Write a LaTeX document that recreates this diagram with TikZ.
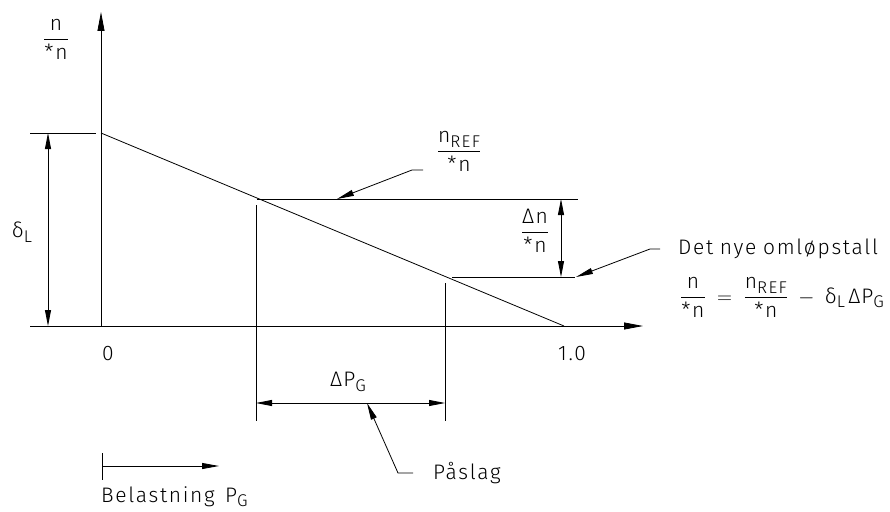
\documentclass[tikz,border=0pt]{standalone}
\usepackage{amsmath}
\usepackage{fontspec}
\setmainfont{Fira Sans Light}[LetterSpace=8]
\usetikzlibrary{arrows.meta}
\newcommand{\frc}[2]{\dfrac{\text{#1}}{\text{#2}}}
\newcommand{\lowr}[1]{\raisebox{-0.4ex}{\fontsize{17}{19}\selectfont #1}}
\tikzset{
  ln/.style={line width=0.8pt},
  axarrow/.style={ln,-{Triangle[length=19pt,width=7pt]}},
  dimarrow/.style={ln,{Triangle[length=16pt,width=6pt]}-{Triangle[length=16pt,width=6pt]}},
  leader/.style={ln,-{Triangle[length=17pt,width=6pt]}},
  lbl/.style={inner sep=0pt,font=\fontsize{21}{24}\selectfont},
}
\begin{document}
\begin{tikzpicture}[x=1pt,y=-1pt]
\useasboundingbox (0,0) rectangle (890,511);
% coordinates
\coordinate (O) at (101,326);
\coordinate (Ytop) at (101,12);
\coordinate (Xs) at (30,326);
\coordinate (Xe) at (643,326);
\coordinate (T1) at (30,133);
\coordinate (T2) at (96,133);
\coordinate (A) at (101,133);
\coordinate (B) at (564,326);
\coordinate (D1) at (48,133);
\coordinate (D2) at (48,326);
\coordinate (V1t) at (256,205);
\coordinate (V1b) at (256,421);
\coordinate (V2t) at (445,283);
\coordinate (V2b) at (445,421);
\coordinate (P1) at (256,403);
\coordinate (P2) at (445,403);
\coordinate (R1) at (257,199);
\coordinate (R2) at (578,199);
\coordinate (N1) at (452,277);
\coordinate (N2) at (575,277);
\coordinate (DN1) at (561,199);
\coordinate (DN2) at (561,277);
\coordinate (RL0) at (423,170);
\coordinate (RL1) at (412,170);
\coordinate (RLt) at (337,199);
\coordinate (NL0) at (660,249);
\coordinate (NL1) at (650,249);
\coordinate (NLt) at (576,277);
\coordinate (PL0) at (413,473);
\coordinate (PL1) at (398,473);
\coordinate (PLt) at (367,403);
\coordinate (BT1) at (102,453);
\coordinate (BT2) at (102,480);
\coordinate (BA1) at (102,466);
\coordinate (BA2) at (219,466);
% axes
\draw[axarrow] (O) -- (Ytop);
\draw[axarrow] (Xs) -- (Xe);
% characteristic
\draw[ln] (T1) -- (T2);
\draw[ln] (A) -- (B);
\draw[dimarrow] (D1) -- (D2);
% extension lines
\draw[ln] (V1t) -- (V1b);
\draw[ln] (V2t) -- (V2b);
\draw[dimarrow] (P1) -- (P2);
\draw[ln] (R1) -- (R2);
\draw[ln] (N1) -- (N2);
\draw[dimarrow] (DN1) -- (DN2);
% leaders
\draw[leader] (RL0) -- (RL1) -- (RLt);
\draw[leader] (NL0) -- (NL1) -- (NLt);
\draw[leader] (PL0) -- (PL1) -- (PLt);
% load arrow
\draw[ln] (BT1) -- (BT2);
\draw[ln,-{Triangle[length=17pt,width=6pt]}] (BA1) -- (BA2);
% labels
\node[lbl,anchor=base] (ny) at (56,45) {$\frc{n}{*n}$};
\node[lbl] (dl) at (22,232) {δ\lowr{L}};
\node[lbl] (zero) at (108,354) {0};
\node[lbl] (one) at (572,354) {1.0};
\node[lbl] (dpg) at (348,382) {Δ\kern1pt P\lowr{G}};
\node[lbl,anchor=base] (nref) at (459,157) {$\frc{n\lowr{REF}}{*n}$};
\node[lbl,anchor=base] (dn) at (535,238) {$\frc{Δn}{*n}$};
\node[lbl,anchor=west] (det) at (678,249) {Det\hspace{0.32em}nye\hspace{0.32em}omløpstall};
\node[lbl,anchor=base west] (form) at (680,303) {$\frc{n}{*n} \;=\; \frc{n\lowr{REF}}{*n} \;-\; \text{δ\lowr{L}\,Δ\kern1pt P\lowr{G}}$};
\node[lbl,anchor=west] (pas) at (433,473) {Påslag};
\node[lbl,anchor=base west] (bel) at (101,502) {Belastning\hspace{0.5em}P\lowr{G}};
\end{tikzpicture}
\end{document}
